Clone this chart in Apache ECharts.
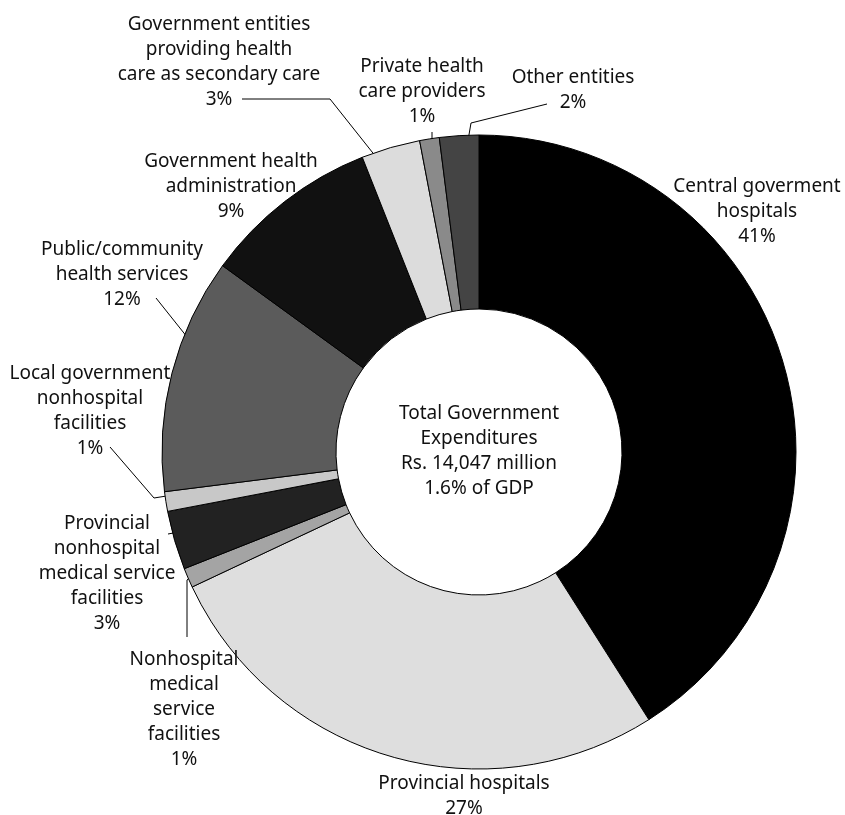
<!DOCTYPE html>
<html>
<head>
<meta charset="utf-8">
<script src="https://cdn.jsdelivr.net/npm/echarts@6/dist/echarts.min.js"></script>
<style>
  html, body { margin: 0; padding: 0; background: #fff; }
  #chart { width: 845px; height: 815px; }
</style>
</head>
<body>
<div id="chart"></div>
<script>
// Government health expenditure by provider, share of total (%)
const categories = [
  'Central goverment\nhospitals',
  'Provincial hospitals',
  'Nonhospital\nmedical\nservice\nfacilities',
  'Provincial\nnonhospital\nmedical service\nfacilities',
  'Local government\nnonhospital\nfacilities',
  'Public/community\nhealth services',
  'Government health\nadministration',
  'Government entities\nproviding health\ncare as secondary care',
  'Private health\ncare providers',
  'Other entities'
];
const shares = [41, 27, 1, 3, 1, 12, 9, 3, 1, 2];
const centerLines = [
  'Total Government',
  'Expenditures',
  'Rs. 14,047 million',
  '1.6% of GDP'
];

const sliceColors = ['#000000', '#dedede', '#a4a4a4', '#222222', '#c8c8c8',
                     '#5b5b5b', '#111111', '#dcdcdc', '#8a8a8a', '#444444'];

// Where each label block sits, and its leader line (if any)
const labelSpots = [
  { x: 757, y: 212 },
  { x: 464, y: 796 },
  { x: 184, y: 710, line: [[187, 637], [187, 580], [207, 563]] },
  { x: 107, y: 574, line: [[168, 534], [200, 528]] },
  { x: 90,  y: 411, line: [[110, 447], [154, 498], [185, 493]] },
  { x: 122, y: 275, line: [[156, 298], [207, 362]] },
  { x: 231, y: 187 },
  { x: 219, y: 62,  line: [[242, 99], [330, 99], [388, 172]] },
  { x: 422, y: 92,  line: [[432, 132], [432, 148], [433, 163]] },
  { x: 573, y: 90,  line: [[547, 104], [471, 123], [465, 158]] }
];

const FONT = '"Noto Sans"';
const FONT_SIZE = 19;
const chart = echarts.init(document.getElementById('chart'), null, { renderer: 'canvas' });

chart.setOption({
  animation: false,
  backgroundColor: '#ffffff',
  series: [{
    type: 'pie',
    center: [479, 452],
    radius: [143, 317],
    startAngle: 90,
    clockwise: true,
    silent: true,
    itemStyle: { borderColor: '#000000', borderWidth: 1 },
    label: {
      show: true,
      position: 'outside',
      alignTo: 'none',
      overflow: 'none',
      formatter: p => p.name + '\n' + p.value + '%',
      fontFamily: FONT,
      fontSize: FONT_SIZE,
      lineHeight: 25,
      color: '#111111',
      align: 'center'
    },
    labelLine: {
      show: true,
      lineStyle: { color: '#000000', width: 1 }
    },
    labelLayout: params => {
      const s = labelSpots[params.dataIndex];
      const out = { x: s.x, y: s.y, align: 'center', verticalAlign: 'middle' };
      if (s.line) out.labelLinePoints = s.line;
      return out;
    },
    data: categories.map((name, i) => ({
      name: name,
      value: shares[i],
      itemStyle: { color: sliceColors[i] },
      labelLine: { show: !!labelSpots[i].line }
    }))
  }],
  graphic: [{
    type: 'text',
    x: 479,
    y: 451,
    silent: true,
    style: {
      text: centerLines.join('\n'),
      fontFamily: 'Noto Sans',
      fontSize: FONT_SIZE,
      lineHeight: 25,
      fill: '#111111',
      align: 'center',
      verticalAlign: 'middle'
    }
  }]
});
</script>
</body>
</html>
